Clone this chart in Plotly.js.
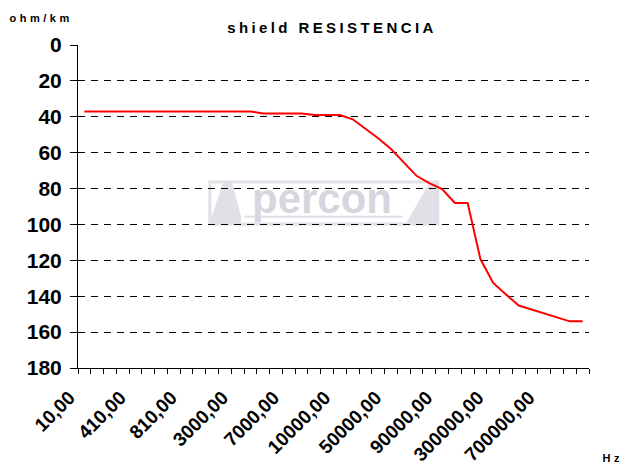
<!DOCTYPE html>
<html>
<head>
<meta charset="utf-8">
<script src="https://cdn.plot.ly/plotly-3.0.1.min.js"></script>
<style>
html, body { margin: 0; padding: 0; background: #fff; }
#chart { width: 623px; height: 470px; }
.gtitle { letter-spacing: 3.4px; }
</style>
</head>
<body>
<div id="chart"></div>
<script>
// Frequency categories (Hz) - every 4th one is labelled on the axis
const categories = [
  "10,00","110,00","210,00","310,00","410,00","510,00","610,00","710,00",
  "810,00","910,00","1000,00","2000,00","3000,00","4000,00","5000,00","6000,00",
  "7000,00","8000,00","9000,00","9500,00","10000,00","20000,00","30000,00","40000,00",
  "50000,00","60000,00","70000,00","80000,00","90000,00","100000,00","200000,00","250000,00",
  "300000,00","400000,00","500000,00","600000,00","700000,00","800000,00","900000,00","1000000,00"
];
// Shield resistance (ohm/km)
const resistance = [
  37, 37, 37, 37, 37, 37, 37, 37,
  37, 37, 37, 37, 37, 37, 38.2, 38.2,
  38.2, 38.2, 39, 39, 39, 41.4, 46.5, 52,
  58, 65.5, 72.9, 77, 80.3, 88, 88, 119.3,
  132.6, 139, 145.2, 147.4, 149.6, 151.8, 154, 154
];
const labelEvery = 4;
const tickText = categories.map((c, i) => (i % labelEvery === 0 ? c : ""));
const yTicks = [0, 20, 40, 60, 80, 100, 120, 140, 160, 180];

const font = "Arial, 'Liberation Sans', sans-serif";
const wmColor = "#e0e0e7";

const trace = {
  x: categories,
  y: resistance,
  type: "scatter",
  mode: "lines",
  line: { color: "#ff0000", width: 2 },
  hoverinfo: "skip"
};

const layout = {
  width: 623,
  height: 470,
  paper_bgcolor: "#ffffff",
  plot_bgcolor: "#ffffff",
  margin: { l: 78, r: 34, t: 45, b: 102, pad: 0 },
  showlegend: false,
  title: {
    text: "shield RESISTENCIA",
    font: { family: font, size: 15, weight: 700, color: "#000" },
    x: 0.497, xref: "paper", xanchor: "center",
    y: 1, yref: "container", yanchor: "top", pad: { t: 22 }
  },
  xaxis: {
    type: "category",
    tickmode: "array",
    tickvals: categories,
    ticktext: tickText,
    tickson: "boundaries",
    ticks: "outside",
    ticklen: 5,
    tickwidth: 1,
    tickcolor: "#000",
    tickangle: -45,
    ticklabelstandoff: 10,
    ticklabelshift: -15,
    tickfont: { family: font, size: 19, weight: 700, color: "#000" },
    showline: true,
    linecolor: "#000",
    linewidth: 1,
    showgrid: false,
    zeroline: false,
    range: [-0.5, categories.length - 0.5],
    automargin: false
  },
  yaxis: {
    range: [180, 0],
    tickmode: "array",
    tickvals: yTicks,
    ticktext: yTicks.map(String),
    ticks: "outside",
    ticklen: 7,
    tickwidth: 1,
    tickcolor: "#000",
    ticklabelstandoff: 4,
    tickfont: { family: font, size: 21, weight: 700, color: "#000" },
    showline: true,
    linecolor: "#000",
    linewidth: 1,
    showgrid: true,
    gridcolor: "#000",
    gridwidth: 1,
    griddash: "7px,6px",
    zeroline: false,
    automargin: false
  },
  annotations: [
    {
      text: "ohm/km", xref: "paper", yref: "paper",
      x: -0.073, y: 1.06, xanchor: "center", yanchor: "bottom", showarrow: false,
      font: { family: font, size: 11, weight: 700, color: "#000" }
    },
    {
      text: "Hz", xref: "paper", yref: "paper",
      x: 1.046, y: -0.28, xanchor: "center", yanchor: "middle", showarrow: false,
      font: { family: font, size: 11, weight: 700, color: "#000" }
    },
    {
      text: "percon", xref: "paper", yref: "paper",
      x: 0.478, y: 0.525, xanchor: "center", yanchor: "middle", showarrow: false,
      font: { family: font, size: 42, weight: 700, color: "#d6d6de" }
    }
  ],
  shapes: [
    {
      type: "rect", xref: "paper", yref: "paper", layer: "below",
      x0: 0.258, x1: 0.704, y0: 0.446, y1: 0.576,
      line: { color: wmColor, width: 3 }, fillcolor: "rgba(0,0,0,0)"
    },
    {
      type: "path", xref: "paper", yref: "paper", layer: "below",
      path: "M 0.258 0.446 L 0.318 0.446 L 0.318 0.470 L 0.300 0.576 L 0.285 0.576 Z",
      line: { color: wmColor, width: 1 }, fillcolor: wmColor
    },
    {
      type: "path", xref: "paper", yref: "paper", layer: "below",
      path: "M 0.642 0.446 L 0.704 0.446 L 0.704 0.576 L 0.690 0.576 Z",
      line: { color: wmColor, width: 1 }, fillcolor: wmColor
    },
    {
      type: "line", xref: "paper", yref: "paper", layer: "below",
      x0: 0.325, x1: 0.635, y0: 0.468, y1: 0.468,
      line: { color: wmColor, width: 2 }
    }
  ]
};

Plotly.newPlot("chart", [trace], layout, { staticPlot: true, displayModeBar: false }).then(() => {
  document.querySelectorAll(".annotation-text").forEach(t => {
    const s = t.textContent;
    if (s === "ohm/km" || s === "Hz") t.style.letterSpacing = "3.5px";
  });
});
</script>
</body>
</html>
